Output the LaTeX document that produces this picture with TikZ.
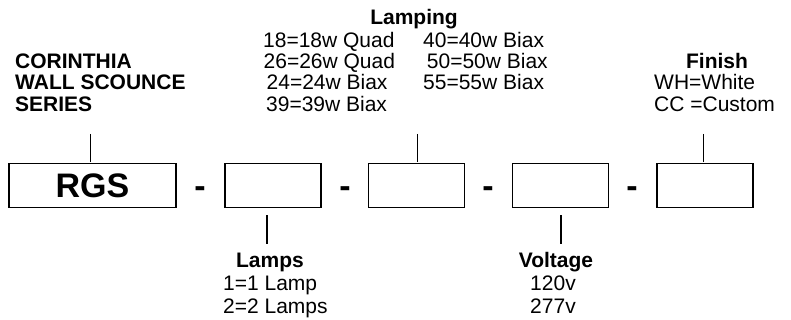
\documentclass[tikz,border=0pt]{standalone}
\usepackage{fontspec}
\setmainfont{Liberation Sans}
\begin{document}
\begin{tikzpicture}[x=1pt, y=-1pt, zbox/.style={draw, line width=1.6pt, minimum height=44, minimum width=96, inner sep=0}, ztxt/.style={inner sep=0, anchor=base west, font=\fontsize{21}{21}\selectfont}, zbold/.style={ztxt, font=\fontsize{21}{21}\selectfont\bfseries}, zhead/.style={zbold, anchor=base}, zbig/.style={font=\fontsize{34}{34}\selectfont\bfseries}, zthin/.style={line width=.8pt}, zthick/.style={line width=1.6pt}]
\useasboundingbox (0,0) rectangle (791,320);
\node[zbox, zbig, minimum width=167] (rgs) at (92.5,185.5) {RGS};
\foreach \n/\x in {lmp/273, lpg/416.5, vlt/560.5, fin/705}{\node[zbox] (\n) at (\x,185.5) {};}
\foreach \n/\x in {da/200, db/345, dc/488, dd/632}{\node[zbig, inner sep=0, anchor=base] (\n) at (\x,198) {-};}
% series
\node[zbold] (sa) at (15,68.3) {CORINTHIA};
\node[zbold] (sb) at (15,90) {WALL SCOUNCE};
\node[zbold] (sc) at (15,111.7) {SERIES};
% lamping
\node[zhead] (hlpg) at (414,25) {Lamping};
\node[ztxt] (pa) at (263,47.5) {18=18w Quad};
\node[ztxt] (pb) at (263.5,68.5) {26=26w Quad};
\node[ztxt] (pc) at (266.5,90) {24=24w Biax};
\node[ztxt] (pd) at (266,111.7) {39=39w Biax};
\node[ztxt] (pe) at (423,47.5) {40=40w Biax};
\node[ztxt] (pf) at (426.7,68.5) {50=50w Biax};
\node[ztxt] (pg) at (423,90) {55=55w Biax};
% finish
\node[zhead] (hfin) at (717,68.5) {Finish};
\node[ztxt] (fa) at (654,90) {WH=White};
\node[ztxt] (fb) at (654,111.7) {CC =Custom};
% lamps, voltage
\node[zhead] (hlmp) at (270,267) {Lamps};
\node[ztxt] (la) at (223,290) {1=1 Lamp};
\node[ztxt] (lb) at (223,313) {2=2 Lamps};
\node[zhead] (hvlt) at (556,267) {Voltage};
\node[ztxt, anchor=base] (va) at (553,290) {120v};
\node[ztxt, anchor=base] (vb) at (553,313) {277v};
\coordinate (ta) at (90,134);
\coordinate (tb) at (417,134);
\coordinate (tc) at (703,134);
\coordinate (ua) at (267,244);
\coordinate (ub) at (561,244);
\foreach \c/\n in {ta/rgs, tb/lpg, tc/fin}{\draw[zthin, shorten >=1pt] (\c) -- (\c |- \n.north);}
\foreach \c/\n in {ua/lmp, ub/vlt}{\draw[zthick, shorten <=7pt] (\n.south -| \c) -- (\c);}
\end{tikzpicture}
\end{document}
